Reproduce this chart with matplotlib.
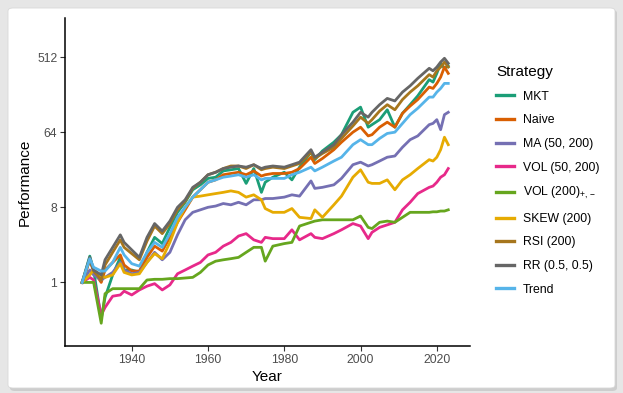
import matplotlib.pyplot as plt
from matplotlib.patches import FancyBboxPatch
from matplotlib.ticker import NullLocator

plt.rcParams['font.family'] = ['Liberation Sans', 'DejaVu Sans']
plt.rcParams['mathtext.fontset'] = 'custom'
plt.rcParams['mathtext.rm'] = 'Liberation Sans'
plt.rcParams['mathtext.it'] = 'Liberation Sans:italic'
plt.rcParams['mathtext.bf'] = 'Liberation Sans:bold'

# years sampled from the chart
years = [1927, 1929, 1930, 1932, 1933, 1935, 1937, 1938, 1940, 1942,
         1944, 1946, 1948, 1950, 1952, 1954, 1956, 1958, 1960, 1962,
         1964, 1966, 1968, 1970, 1972, 1974, 1975, 1977, 1980, 1982,
         1984, 1987, 1988, 1990, 1993, 1995, 1998, 2000, 2002, 2003,
         2005, 2007, 2009, 2011, 2013, 2015, 2018, 2019, 2020, 2021,
         2022, 2023]

mkt = [1.0, 2.07, 1.41, 0.366, 0.66, 1.23, 2.0, 1.41, 1.41, 1.32,
       2.30, 3.48, 2.93, 4.59, 6.96, 9.19, 13.0, 14.9, 17.8, 18.4,
       21.9, 22.6, 23.4, 15.5, 23.4, 12.1, 16.0, 18.4, 21.1, 17.1,
       24.3, 36.8, 29.9, 38.1, 48.5, 59.7, 111, 128, 73.5, 78.8,
       90.5, 119, 73.5, 108, 137, 175, 274, 256, 326, 431,
       375, 401]
naive = [1.0, 1.87, 1.37, 1.0, 1.41, 1.74, 2.14, 1.62, 1.37, 1.37,
         2.0, 2.73, 2.38, 3.48, 5.28, 7.46, 10.6, 13.0, 16.0, 17.1,
         19.7, 20.4, 21.1, 19.7, 21.9, 19.0, 19.7, 20.4, 20.4, 21.1,
         23.4, 32.0, 26.9, 30.9, 39.4, 48.5, 64.0, 73.5, 57.7, 59.7,
         73.5, 84.4, 73.5, 108, 132, 158, 223, 215, 247, 294,
         388, 326]
ma = [1.0, 1.41, 1.23, 1.07, 1.15, 1.32, 1.74, 1.41, 1.27, 1.32,
      1.74, 2.30, 1.87, 2.30, 3.73, 5.66, 6.96, 7.46, 8.0, 8.28,
      8.88, 8.57, 9.19, 8.57, 9.85, 9.85, 10.2, 10.2, 10.6, 11.3,
      10.9, 16.6, 13.5, 13.9, 14.9, 17.8, 26.0, 27.9, 25.1, 26.0,
      28.8, 32.0, 33.1, 42.2, 52.0, 57.7, 78.8, 81.6, 90.5, 68.6,
      104, 111]
vol_50_200 = [1.0, 1.15, 1.07, 0.406, 0.5, 0.683, 0.707, 0.785, 0.707, 0.812,
              0.901, 0.966, 0.812, 0.933, 1.27, 1.41, 1.57, 1.74, 2.14, 2.30,
              2.73, 3.03, 3.61, 3.86, 3.25, 3.03, 3.48, 3.36, 3.36, 4.29,
              3.25, 3.86, 3.48, 3.36, 3.86, 4.29, 5.10, 4.76, 3.36, 4.0,
              4.59, 4.92, 5.28, 7.46, 9.19, 11.7, 13.9, 14.4, 16.0, 18.4,
              19.7, 23.4]
vol_200_ls = [1.0, 1.0, 1.0, 0.323, 0.732, 0.841, 0.841, 0.841, 0.841, 0.841,
              1.07, 1.09, 1.09, 1.11, 1.11, 1.13, 1.15, 1.32, 1.62, 1.80,
              1.87, 1.93, 2.0, 2.30, 2.64, 2.64, 1.80, 2.73, 2.93, 3.03,
              4.76, 5.28, 5.46, 5.66, 5.66, 5.66, 5.66, 6.28, 4.59, 4.44,
              5.28, 5.46, 5.28, 6.06, 6.96, 6.96, 6.96, 7.06, 7.06, 7.21,
              7.21, 7.46]
skew = [1.0, 1.23, 1.41, 1.19, 1.15, 1.23, 1.68, 1.32, 1.23, 1.27,
        1.74, 2.22, 1.93, 3.03, 5.28, 8.0, 10.6, 10.9, 11.3, 11.7,
        12.1, 12.6, 12.1, 10.6, 11.3, 9.85, 7.73, 6.96, 6.96, 7.73,
        6.06, 5.86, 7.46, 6.06, 8.57, 10.9, 18.4, 22.6, 16.0, 15.5,
        15.5, 17.1, 13.0, 17.1, 19.7, 23.4, 29.9, 28.8, 32.0, 39.4,
        55.7, 45.3]
rsi = [1.0, 1.87, 1.37, 1.07, 1.62, 2.30, 3.25, 2.64, 2.22, 1.87,
       3.14, 4.76, 3.86, 5.10, 7.46, 9.51, 13.5, 16.0, 19.7, 21.1,
       23.4, 25.1, 25.1, 23.4, 26.0, 22.6, 23.4, 24.3, 23.4, 25.1,
       26.9, 36.8, 30.9, 35.5, 42.2, 53.8, 76.1, 97.0, 81.6, 90.5,
       115, 137, 119, 158, 194, 231, 315, 294, 350, 388,
       446, 388]
rr = [1.0, 2.0, 1.41, 1.23, 1.87, 2.64, 3.73, 3.03, 2.46, 2.0,
      3.48, 5.1, 4.14, 5.46, 8.0, 9.85, 13.9, 16.0, 19.7, 21.1,
      23.4, 24.3, 25.1, 24.3, 26.0, 23.4, 24.3, 25.1, 24.3, 26.0,
      27.9, 39.4, 32.0, 36.8, 45.3, 59.7, 84.4, 111, 97.0, 111,
      137, 163, 152, 194, 231, 284, 375, 350, 388, 446,
      495, 431]
trend = [1.0, 1.93, 1.52, 1.37, 1.37, 1.74, 2.64, 2.14, 1.68, 1.57,
         2.30, 3.03, 2.64, 3.86, 6.06, 8.0, 10.6, 13.0, 16.0, 17.1,
         18.4, 19.0, 19.7, 18.4, 19.7, 17.1, 17.8, 17.8, 17.8, 19.7,
         21.1, 24.3, 21.9, 24.3, 28.8, 32.0, 45.3, 52.0, 45.3, 45.3,
         53.8, 61.8, 64.0, 81.6, 104, 124, 169, 169, 194, 215,
         247, 247]

labels = ["MKT", "Naive", "MA (50, 200)", "VOL (50, 200)", r"VOL (200)$_{+,-}$",
          "SKEW (200)", "RSI (200)", "RR (0.5, 0.5)", "Trend"]
series = [mkt, naive, ma, vol_50_200, vol_200_ls, skew, rsi, rr, trend]
colors = ["#1B9E77", "#D95F02", "#7570B3", "#E7298A", "#66A61E",
          "#E6AB02", "#A6761D", "#666666", "#56B4E9"]

W, H = 623, 393
fig = plt.figure(figsize=(W / 100, H / 100), dpi=100)
fig.patch.set_facecolor("#e6e6e6")

# card with a light shadow, like the screenshot
shadow = FancyBboxPatch((10 / W, 2 / H), 607 / W, 381 / H,
                        boxstyle="round,pad=0,rounding_size=0.008",
                        transform=fig.transFigure, fc="#cdcdcd", ec="none", zorder=-2)
card = FancyBboxPatch((8 / W, 5 / H), 607 / W, 380 / H,
                      boxstyle="round,pad=0,rounding_size=0.008",
                      transform=fig.transFigure, fc="white", ec="#d8d8d8", lw=0.6, zorder=-1)
fig.patches.extend([shadow, card])

ax = fig.add_axes([65 / W, 1 - 346 / H, 405 / W, 328 / H])
ax.set_facecolor("none")

for y, lab, c in zip(series, labels, colors):
    ax.plot(years, y, color=c, lw=2.0, label=lab, solid_joinstyle="round")

ax.set_yscale("log", base=2)
ax.set_yticks([1, 8, 64, 512])
ax.set_yticklabels(["1", "8", "64", "512"])
ax.yaxis.set_minor_locator(NullLocator())
ax.set_xticks([1940, 1960, 1980, 2000, 2020])
ax.set_xlim(1922.5, 2028.7)
ax.set_ylim(0.172, 1510)

for s in ["top", "right"]:
    ax.spines[s].set_visible(False)
for s in ["left", "bottom"]:
    ax.spines[s].set_linewidth(1.1)
    ax.spines[s].set_color("black")
ax.tick_params(length=3.5, width=0.8, color="#333333", labelcolor="#4d4d4d",
               labelsize=8.8, pad=2)

ax.set_xlabel("Year", fontsize=11, labelpad=3)
ax.set_ylabel("Performance", fontsize=11, labelpad=4)

leg = fig.legend(loc="upper left", bbox_to_anchor=(490 / W, 1 - 59 / H),
                 frameon=False, title="Strategy", fontsize=8.8,
                 title_fontsize=11, handlelength=1.5, handletextpad=0.7,
                 labelspacing=0.95, borderpad=0, alignment="left")
for h in leg.get_lines():
    h.set_linewidth(2.4)

fig.savefig("out.png", dpi=100, facecolor=fig.get_facecolor())
